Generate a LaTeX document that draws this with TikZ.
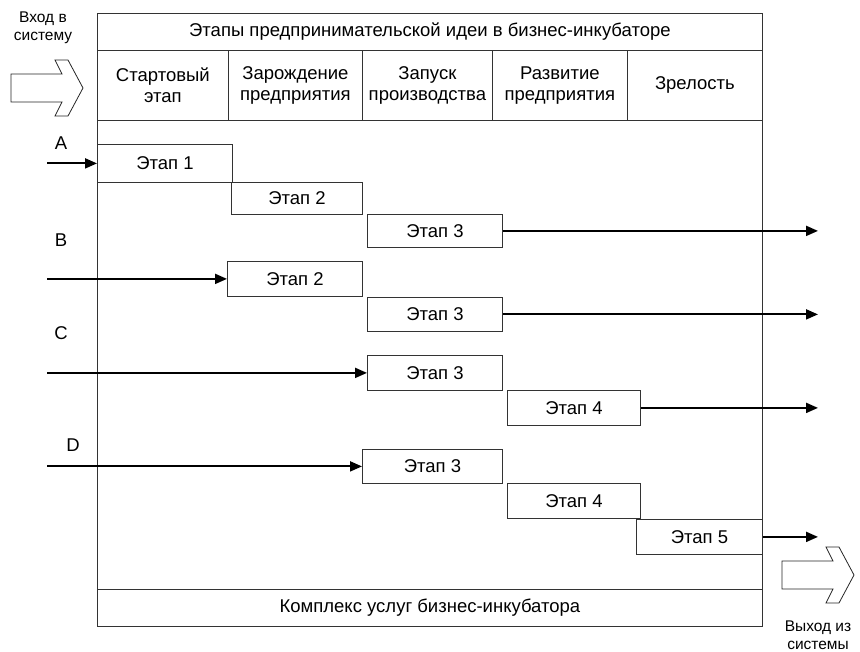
\documentclass[tikz,border=0pt]{standalone}
\usepackage{fontspec}
\setmainfont{Liberation Sans}
\usetikzlibrary{arrows.meta}
\begin{document}
\begin{tikzpicture}[x=1pt,y=-1pt,
  thin line/.style={draw=black!80, line width=0.8pt},
  cell/.style={thin line, inner sep=0pt, anchor=north west, align=center, font=\fontsize{18.5}{21}\selectfont},
  stagebox/.style={thin line, fill=white, inner sep=0pt, anchor=north west, font=\fontsize{18.5}{21}\selectfont},
  lbl/.style={align=center, font=\fontsize{18.5}{21}\selectfont},
  side/.style={align=center, inner sep=0pt, font=\fontsize{15.5}{18.5}\selectfont},
  flow/.style={line width=2pt, -{Triangle[length=12pt,width=10pt]}},
  bigarrow/.style={draw=black!85, line width=0.8pt, fill=white, line join=miter}]
\useasboundingbox (0,0) rectangle (860,652);
% frame
\node[cell, minimum width=665pt, minimum height=613pt] (frame) at (97,13) {};
\node[cell, minimum width=665pt, minimum height=37pt] (title) at (97,13) {Этапы предпринимательской идеи в бизнес-инкубаторе};
\node[cell, minimum width=131pt, minimum height=70pt] (h1) at (97,50) {Стартовый\\этап};
\node[cell, minimum width=134pt, minimum height=70pt] (h2) at (228,50) {Зарождение\\предприятия};
\node[cell, minimum width=130pt, minimum height=70pt] (h3) at (362,50) {Запуск\\производства};
\node[cell, minimum width=135pt, minimum height=70pt] (h4) at (492,50) {Развитие\\предприятия};
\node[cell, minimum width=135pt, minimum height=70pt] (h5) at (627,50) {Зрелость};
\node[cell, minimum width=665pt, minimum height=37pt] (bottom) at (97,589) {Комплекс услуг бизнес-инкубатора};

% row A
\node[stagebox, minimum width=135pt, minimum height=38pt] (a1) at (97,144) {Этап 1};
\node[stagebox, minimum width=131pt, minimum height=32pt] (a2) at (231,182) {Этап 2};
\node[stagebox, minimum width=135pt, minimum height=33pt] (a3) at (367,214) {Этап 3};
% row B
\node[stagebox, minimum width=135pt, minimum height=35pt] (b2) at (227,261) {Этап 2};
\node[stagebox, minimum width=135pt, minimum height=34pt] (b3) at (367,297) {Этап 3};
% row C
\node[stagebox, minimum width=135pt, minimum height=35pt] (c3) at (367,355) {Этап 3};
\node[stagebox, minimum width=133pt, minimum height=35pt] (c4) at (507,390) {Этап 4};
% row D
\node[stagebox, minimum width=140pt, minimum height=34pt] (d3) at (362,449) {Этап 3};
\node[stagebox, minimum width=133pt, minimum height=35pt] (d4) at (507,483) {Этап 4};
\node[stagebox, minimum width=126pt, minimum height=35pt] (d5) at (636,519) {Этап 5};

% labels
\node[lbl] (la) at (61,143) {A};
\node[lbl] (lb) at (61,240) {B};
\node[lbl] (lc) at (61,333) {C};
\node[lbl] (ld) at (73,445) {D};
\node[side] (in) at (43,28) {Вход в\\систему};
\node[side] (out) at (818,635) {Выход из\\системы};

% entry / exit x positions
\coordinate (sx) at (47,0);
\coordinate (ex) at (818,0);
\draw[flow] (sx |- a1.west) -- (a1.west);
\draw[flow] (sx |- b2.west) -- (b2.west);
\draw[flow] (sx |- c3.west) -- (c3.west);
\draw[flow] (sx |- d3.west) -- (d3.west);
\draw[flow] (a3.east) -- (ex |- a3.east);
\draw[flow] (b3.east) -- (ex |- b3.east);
\draw[flow] (c4.east) -- (ex |- c4.east);
\draw[flow] (d5.east) -- (ex |- d5.east);

% block arrows
\draw[bigarrow] (11,74) -- (62,74) -- (55,60) -- (68,60) -- (83,88) -- (68,116) -- (55,116) -- (62,102) -- (11,102) -- cycle;
\draw[bigarrow] (782,561) -- (833,561) -- (826,547) -- (839,547) -- (854,575) -- (839,603) -- (826,603) -- (833,589) -- (782,589) -- cycle;
\end{tikzpicture}
\end{document}
